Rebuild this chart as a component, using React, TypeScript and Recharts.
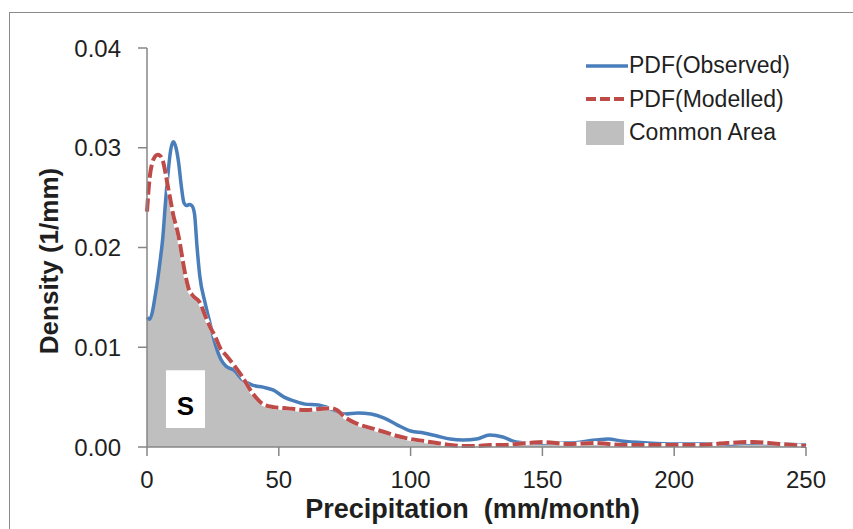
import React from "react";
import { ComposedChart, Area, Line, XAxis, YAxis, ReferenceArea } from "recharts";

const precipitation = [0, 1, 2, 3, 4, 5, 6, 7, 8, 9, 10, 11, 12, 13, 14, 15, 16, 17, 18, 19, 20, 22, 24, 26, 28, 30, 33, 36, 40, 44, 48, 52, 56, 60, 65, 70, 72, 75, 80, 85, 90, 95, 100, 105, 110, 115, 120, 125, 130, 135, 140, 145, 150, 160, 170, 175, 180, 190, 200, 210, 220, 230, 240, 250];

const observedPdf = [0.0130, 0.0128, 0.0135, 0.0150, 0.0167, 0.0187, 0.0210, 0.0245, 0.0275, 0.0298, 0.0306, 0.0300, 0.0285, 0.0262, 0.0245, 0.0242, 0.0243, 0.0242, 0.0234, 0.0200, 0.0172, 0.0145, 0.0123, 0.0102, 0.0088, 0.0081, 0.0077, 0.0068, 0.0062, 0.0060, 0.0057, 0.0050, 0.0046, 0.0043, 0.0042, 0.0038, 0.0036, 0.0033, 0.0034, 0.0033, 0.0029, 0.0022, 0.0016, 0.0014, 0.0011, 0.0008, 0.0007, 0.0008, 0.0012, 0.0010, 0.0005, 0.0004, 0.0004, 0.0004, 0.0007, 0.0008, 0.0006, 0.0004, 0.0003, 0.0003, 0.0003, 0.0004, 0.0003, 0.0002];

const modelledPdf = [0.0236, 0.0270, 0.0285, 0.0291, 0.0293, 0.0292, 0.0287, 0.0275, 0.0260, 0.0246, 0.0232, 0.0222, 0.0211, 0.0196, 0.0180, 0.0167, 0.0157, 0.0153, 0.0150, 0.0148, 0.0145, 0.0132, 0.0120, 0.0110, 0.0098, 0.0092, 0.0082, 0.0071, 0.0054, 0.0043, 0.0040, 0.0039, 0.0038, 0.0037, 0.0038, 0.0039, 0.0037, 0.0030, 0.0023, 0.0019, 0.0015, 0.0011, 0.0008, 0.0006, 0.0004, 0.0002, 0.0001, 0.0001, 0.0002, 0.0002, 0.0003, 0.0004, 0.0005, 0.0003, 0.0004, 0.0003, 0.0002, 0.0002, 0.0002, 0.0002, 0.0004, 0.0005, 0.0003, 0.0001];

const commonArea = [0.0130, 0.0128, 0.0135, 0.0150, 0.0167, 0.0187, 0.0210, 0.0245, 0.0260, 0.0246, 0.0232, 0.0222, 0.0211, 0.0196, 0.0180, 0.0167, 0.0157, 0.0153, 0.0150, 0.0148, 0.0145, 0.0132, 0.0120, 0.0102, 0.0088, 0.0081, 0.0077, 0.0068, 0.0054, 0.0043, 0.0040, 0.0039, 0.0038, 0.0037, 0.0038, 0.0038, 0.0036, 0.0030, 0.0023, 0.0019, 0.0015, 0.0011, 0.0008, 0.0006, 0.0004, 0.0002, 0.0001, 0.0001, 0.0002, 0.0002, 0.0003, 0.0004, 0.0004, 0.0003, 0.0004, 0.0003, 0.0002, 0.0002, 0.0002, 0.0002, 0.0003, 0.0004, 0.0003, 0.0001];

const xTicks = [0, 50, 100, 150, 200, 250];
const yTicks = [0, 0.01, 0.02, 0.03, 0.04];
const seriesNames = ["PDF(Observed)", "PDF(Modelled)", "Common Area"];
const xTitle = "Precipitation\u00A0\u00A0(mm/month)";
const yTitle = "Density (1/mm)";
const boxLabel = "S";
const boxRange = { x1: 7.2, x2: 22, y1: 0.0019, y2: 0.0077 };

const data = precipitation.map((x, i) => ({
  x,
  obs: observedPdf[i],
  mod: modelledPdf[i],
  common: commonArea[i],
}));

const FONT = "'Liberation Sans', Arial, sans-serif";
const AXIS = "#868686";
const BLUE = "#4A7EBB";
const RED = "#BE4B48";
const GRAY = "#BFBFBF";
const TEXT = "#1f1f1f";

const LegendBlock = () => (
  <div style={{ position: "absolute", left: 585, top: 49, width: 260, fontFamily: FONT, fontSize: 23, color: TEXT }}>
    {seriesNames.map((name, i) => (
      <div key={name} style={{ display: "flex", alignItems: "center", height: 33.5 }}>
        <svg width={44} height={34} style={{ display: "block" }}>
          {i === 0 && <line x1={1} y1={17} x2={43} y2={17} stroke={BLUE} strokeWidth={3.5} />}
          {i === 1 && <line x1={1} y1={17} x2={43} y2={17} stroke={RED} strokeWidth={4} strokeDasharray="10 4" />}
          {i === 2 && <rect x={1} y={5} width={38} height={24} fill={GRAY} />}
        </svg>
        <span style={{ whiteSpace: "nowrap" }}>{name}</span>
      </div>
    ))}
  </div>
);

const XTitle = (props: any) => {
  const vb = props.viewBox;
  return (
    <text x={vb.x + vb.width / 2 - 4} y={vb.y + 71} textAnchor="middle" fontFamily={FONT} fontWeight="bold" fontSize={27} fill={TEXT}>
      {xTitle}
    </text>
  );
};

const YTitle = (props: any) => {
  const vb = props.viewBox;
  const cx = vb.x + 2;
  const cy = vb.y + 213;
  return (
    <text x={cx} y={cy} transform={`rotate(-90 ${cx} ${cy})`} textAnchor="middle" dominantBaseline="central" fontFamily={FONT} fontWeight="bold" fontSize={26} fill={TEXT}>
      {yTitle}
    </text>
  );
};

const BoxLabel = (props: any) => {
  const vb = props.viewBox;
  return (
    <text x={vb.x + vb.width / 2} y={vb.y + vb.height / 2 + 16} textAnchor="middle" fontFamily={FONT} fontWeight="bold" fontSize={26} fill="#000">
      {boxLabel}
    </text>
  );
};

export default function App() {
  return (
    <div style={{ position: "absolute", left: 0, top: 0, width: 853, height: 529, background: "#fff", fontFamily: FONT, overflow: "hidden" }}>
      <div style={{ position: "absolute", left: 9, top: 12, width: 860, height: 530, borderLeft: "1.5px solid #8a8a8a", borderTop: "1.5px solid #8a8a8a" }} />
      <div style={{ position: "absolute", left: 0, top: 0 }}>
        <ComposedChart width={853} height={529} data={data} margin={{ top: 48, right: 47, bottom: 22, left: 47 }}>
          <XAxis
            dataKey="x"
            type="number"
            domain={[0, 250]}
            ticks={xTicks}
            height={60}
            tickSize={9}
            tickMargin={15}
            axisLine={{ stroke: AXIS, strokeWidth: 1.5 }}
            tickLine={{ stroke: AXIS, strokeWidth: 1.5 }}
            tick={{ fill: TEXT, fontSize: 24, fontFamily: FONT }}
            label={<XTitle />}
          />
          <YAxis
            type="number"
            domain={[0, 0.04]}
            ticks={yTicks}
            width={100}
            tickSize={9}
            tickMargin={17}
            tickFormatter={(v: number) => v.toFixed(2)}
            axisLine={{ stroke: AXIS, strokeWidth: 1.5 }}
            tickLine={{ stroke: AXIS, strokeWidth: 1.5 }}
            tick={{ fill: TEXT, fontSize: 24, fontFamily: FONT }}
            label={<YTitle />}
          />
          <Area dataKey="common" type="monotone" fill={GRAY} fillOpacity={1} stroke="none" isAnimationActive={false} />
          <ReferenceArea x1={boxRange.x1} x2={boxRange.x2} y1={boxRange.y1} y2={boxRange.y2} fill="#fff" fillOpacity={1} stroke="none" label={<BoxLabel />} />
          <Line dataKey="obs" type="monotone" stroke={BLUE} strokeWidth={3.5} dot={false} isAnimationActive={false} />
          <Line dataKey="mod" type="monotone" stroke="#fff" strokeWidth={4} dot={false} isAnimationActive={false} />
          <Line dataKey="mod" type="monotone" stroke={RED} strokeWidth={4} strokeDasharray="13 4" dot={false} isAnimationActive={false} />
        </ComposedChart>
      </div>
      <LegendBlock />
    </div>
  );
}
